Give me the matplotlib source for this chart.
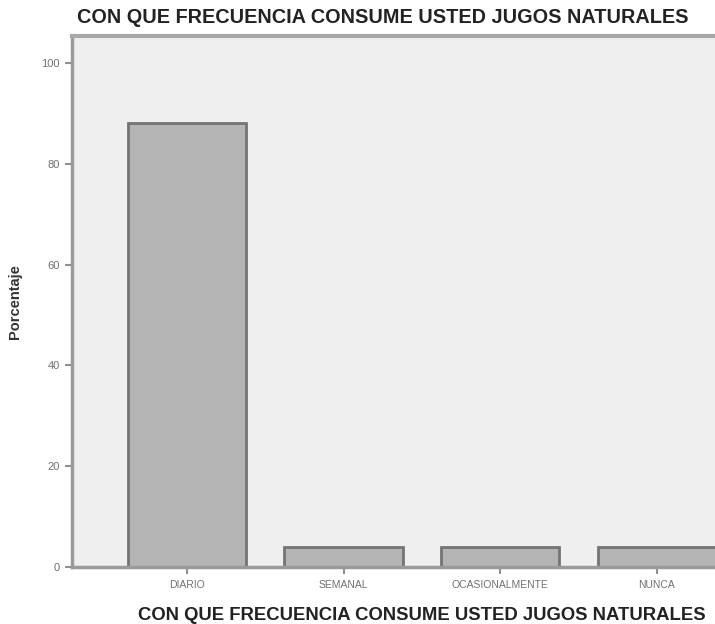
import matplotlib
matplotlib.use('Agg')
import matplotlib.pyplot as plt
import numpy as np

plt.rcParams['font.family'] = ['Liberation Sans', 'DejaVu Sans']

categorias = ['DIARIO', 'SEMANAL', 'OCASIONALMENTE', 'NUNCA']
porcentaje = [88, 4, 4, 4]
yticks = [0, 20, 40, 60, 80, 100]
titulo = 'CON QUE FRECUENCIA CONSUME USTED JUGOS NATURALES'

fig = plt.figure(figsize=(7.15, 6.24), dpi=100)
ax = fig.add_axes([0.101, 0.091, 0.905, 0.851])
ax.set_facecolor('#efefef')

x = np.arange(len(categorias))
ax.bar(x, porcentaje, width=0.755, color='#b4b4b4', edgecolor='#747474', linewidth=2)

ax.set_xlim(-0.733, 3.40)
ax.set_ylim(0, 105.3)
ax.set_xticks(x)
ax.set_xticklabels(categorias, fontsize=7.5, color='#707070')
ax.set_yticks(yticks)
ax.set_yticklabels([str(v) for v in yticks], fontsize=8, color='#707070')
ax.tick_params(axis='both', length=5, width=1.5, color='#909090', pad=4)

for s in ['left', 'bottom']:
    ax.spines[s].set_color('#9a9a9a')
    ax.spines[s].set_linewidth(2.5)
ax.spines['top'].set_color('#a8a8a8')
ax.spines['top'].set_linewidth(3)
ax.spines['right'].set_visible(False)

ax.set_ylabel('Porcentaje', fontsize=10.5, fontweight='bold', color='#333333', labelpad=14)
ax.set_xlabel(titulo, fontsize=13.3, fontweight='bold', color='#222222')
ax.xaxis.set_label_coords(0.54, -0.075)
fig.text(0.536, 0.972, titulo, ha='center', va='center', fontsize=14.3,
         fontweight='bold', color='#222222')

fig.savefig('out.png', dpi=100)
